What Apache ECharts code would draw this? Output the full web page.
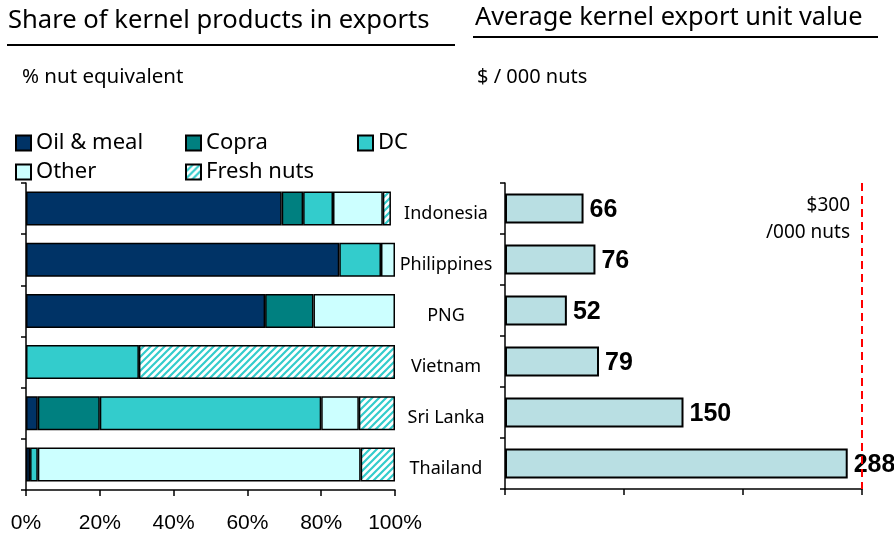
<!DOCTYPE html>
<html>
<head>
<meta charset="utf-8">
<script src="https://cdn.jsdelivr.net/npm/echarts@6/dist/echarts.min.js"></script>
<style>
  html, body { margin: 0; padding: 0; background: #fff; }
  #chart { width: 894px; height: 536px; }
</style>
</head>
<body>
<div id="chart"></div>
<script>
// data
const countries = ['Indonesia', 'Philippines', 'PNG', 'Vietnam', 'Sri Lanka', 'Thailand'];
const oilMeal   = [69.3, 84.9, 64.8, null, 3.2, 1.1];
const copra     = [5.8, null, 13.1, null, 16.8, null];
const dc        = [8.1, 11.3, null, 30.6, 60.0, 2.1];
const other     = [13.5, 3.8, 22.1, null, 10.2, 87.5];
const freshNuts = [2.2, null, null, 69.4, 9.8, 9.3];
const unitValue = [66, 76, 52, 79, 150, 288];
const benchmark = 300;

const FONT = '"Noto Sans", "Open Sans", sans-serif';

// diagonal hatch for fresh nuts
function hatch() {
  const c = document.createElement('canvas');
  c.width = 7; c.height = 7;
  const g = c.getContext('2d');
  g.fillStyle = '#fff';
  g.fillRect(0, 0, 7, 7);
  g.strokeStyle = '#33CCCC';
  g.lineWidth = 2.2;
  g.beginPath();
  g.moveTo(-1, 8); g.lineTo(8, -1);
  g.moveTo(-1, 1); g.lineTo(1, -1);
  g.moveTo(6, 8); g.lineTo(8, 6);
  g.stroke();
  return c;
}

const shareSeries = [
  ['Oil & meal', oilMeal, '#003366'],
  ['Copra', copra, '#008080'],
  ['DC', dc, '#33CCCC'],
  ['Other', other, '#CCFFFF'],
  ['Fresh nuts', freshNuts, { image: hatch(), repeat: 'repeat' }]
].map(([name, data, color]) => ({
  name: name,
  type: 'bar',
  stack: 'share',
  xAxisIndex: 0,
  yAxisIndex: 0,
  barWidth: 34,
  data: data,
  itemStyle: { color: color, borderColor: '#000', borderWidth: 1.5 }
}));

const axisLine = { show: true, lineStyle: { color: '#000', width: 1.5 } };

const legendBase = {
  orient: 'vertical',
  top: 127,
  icon: 'rect',
  itemWidth: 15,
  itemHeight: 15,
  itemGap: 7,
  selectedMode: false,
  textStyle: { fontFamily: FONT, fontSize: 22, color: '#000' }
};

const chart = echarts.init(document.getElementById('chart'));

chart.setOption({
  animation: false,
  legend: [
    Object.assign({ left: 10, data: ['Oil & meal', 'Other'] }, legendBase),
    Object.assign({ left: 180, data: ['Copra', 'Fresh nuts'] }, legendBase),
    Object.assign({ left: 352, data: ['DC'] }, legendBase)
  ],
  grid: [
    { left: 26, right: 499, top: 183, bottom: 46 },
    { left: 505, right: 32, top: 183, bottom: 47 }
  ],
  xAxis: [
    {
      gridIndex: 0, type: 'value', min: 0, max: 100, interval: 20,
      axisLine: axisLine,
      axisTick: { show: true, length: 6, lineStyle: { color: '#000', width: 1.5 } },
      splitLine: { show: false },
      axisLabel: { formatter: '{value}%', fontFamily: '"Liberation Sans", Arial, sans-serif', fontSize: 21, color: '#000', margin: 23 }
    },
    {
      gridIndex: 1, type: 'value', min: 0, max: benchmark, interval: 100,
      axisLine: axisLine,
      axisTick: { show: true, length: 6, lineStyle: { color: '#000', width: 1.5 } },
      splitLine: { show: false },
      axisLabel: { show: false }
    }
  ],
  yAxis: [
    {
      gridIndex: 0, type: 'category', data: countries, inverse: true,
      axisLine: axisLine,
      axisTick: { show: true, length: 5, lineStyle: { color: '#000', width: 1.5 } },
      axisLabel: { show: false }
    },
    {
      gridIndex: 1, type: 'category', data: countries, inverse: true,
      axisLine: axisLine,
      axisTick: { show: true, length: 5, lineStyle: { color: '#000', width: 1.5 } },
      axisLabel: {
        align: 'center', verticalAlign: 'top', lineHeight: 10, margin: 59,
        fontFamily: FONT, fontSize: 18, color: '#000'
      }
    }
  ],
  series: shareSeries.concat([{
    name: 'Unit value',
    type: 'bar',
    xAxisIndex: 1,
    yAxisIndex: 1,
    barWidth: 30,
    data: unitValue,
    itemStyle: { color: '#B9DFE3', borderColor: '#000', borderWidth: 2 },
    label: {
      show: true, position: 'right', distance: 6, offset: [0, 2], color: '#000',
      fontFamily: '"Liberation Sans Narrow", "Arial Narrow", sans-serif',
      fontWeight: 'bold', fontSize: 25
    },
    markLine: {
      silent: true, symbol: 'none',
      label: { show: false },
      lineStyle: { color: '#FF0000', type: [8, 5], width: 2 },
      data: [{ xAxis: benchmark }]
    }
  }])
});

// titles, rules and notes
const lineX = chart.convertToPixel({ xAxisIndex: 1 }, benchmark);
const topRow = chart.convertToPixel({ yAxisIndex: 1 }, countries[0]);
const noteA = chart.convertToPixel({ gridIndex: 1 }, [46, countries[1]]);

chart.setOption({
  graphic: [
    { type: 'text', left: 8, top: 8, style: { text: 'Share of kernel products in exports', fontFamily: FONT, fontSize: 25.6, fill: '#000' } },
    { type: 'line', shape: { x1: 7, y1: 45, x2: 455, y2: 45 }, style: { stroke: '#000', lineWidth: 2 } },
    { type: 'text', left: 475, top: 5, style: { text: 'Average kernel export unit value', fontFamily: FONT, fontSize: 25.4, fill: '#000' } },
    { type: 'line', shape: { x1: 473, y1: 37, x2: 878, y2: 37 }, style: { stroke: '#000', lineWidth: 2 } },
    { type: 'text', left: 22, top: 67, style: { text: '% nut equivalent', fontFamily: FONT, fontSize: 20.5, fill: '#000' } },
    { type: 'text', left: 477, top: 67, style: { text: '$ / 000 nuts', fontFamily: FONT, fontSize: 20, fill: '#000' } },
    {
      type: 'text', x: lineX - 12, y: topRow - 16,
      style: { text: '$300\n/000 nuts', align: 'right', verticalAlign: 'top', lineHeight: 27, fontFamily: FONT, fontSize: 19, fill: '#000' }
    },
    {
      type: 'text', x: noteA[0], y: noteA[1] + 10,
      style: { text: 'a', align: 'center', verticalAlign: 'middle', fontFamily: FONT, fontSize: 8, fill: '#000' }
    }
  ]
});
</script>
</body>
</html>
